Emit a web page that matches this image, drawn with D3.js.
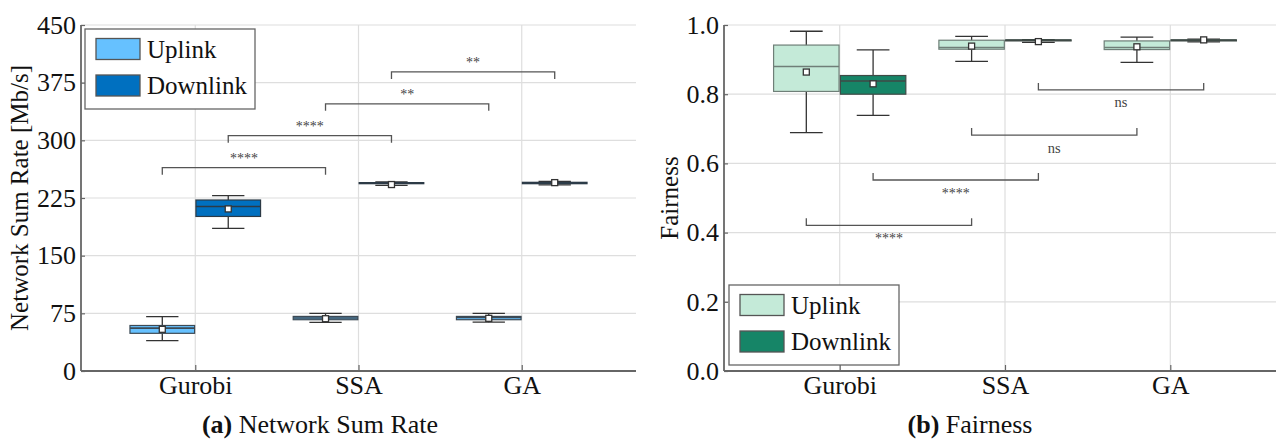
<!DOCTYPE html>
<html>
<head>
<meta charset="utf-8">
<script src="https://cdn.jsdelivr.net/npm/d3@7"></script>
<style>
  body { margin: 0; background: #fff; }
  svg { display: block; font-family: "Liberation Serif", "Times New Roman", serif; }
</style>
</head>
<body>
<svg id="chart" width="1276" height="441"></svg>
<script>
const categories = ["Gurobi", "SSA", "GA"];
const series = ["Uplink", "Downlink"];

// stats per category: [whiskerLow, q1, median, q3, whiskerHigh, mean]
const rateUplink = [
  [39.5, 49, 55.7, 59.2, 70.6, 54.2],
  [63.3, 66.7, 69, 71, 75, 68],
  [63.5, 66.7, 69.5, 71, 75, 68.5]
];
const rateDownlink = [
  [185.5, 201, 214, 222.4, 228.2, 210.8],
  [241.5, 243.6, 244.4, 245, 246, 242.5],
  [242, 243.6, 244.5, 245.4, 246.5, 245]
];
const fairUplink = [
  [0.689, 0.808, 0.880, 0.942, 0.982, 0.864],
  [0.895, 0.930, 0.935, 0.956, 0.967, 0.939],
  [0.892, 0.929, 0.935, 0.954, 0.965, 0.937]
];
const fairDownlink = [
  [0.739, 0.800, 0.838, 0.854, 0.928, 0.830],
  [0.950, 0.954, 0.956, 0.957, 0.958, 0.952],
  [0.951, 0.954, 0.956, 0.957, 0.959, 0.957]
];

const rateTicks = [0, 75, 150, 225, 300, 375, 450];
const fairTicks = [0, 0.2, 0.4, 0.6, 0.8, 1.0];

// significance brackets: [category, series] pairs, bracket level in data units
const rateBrackets = [
  { a: ["Gurobi", "Uplink"], b: ["SSA", "Uplink"], y: 264.5, label: "****" },
  { a: ["Gurobi", "Downlink"], b: ["SSA", "Downlink"], y: 306, label: "****" },
  { a: ["SSA", "Uplink"], b: ["GA", "Uplink"], y: 347.5, label: "**" },
  { a: ["SSA", "Downlink"], b: ["GA", "Downlink"], y: 389, label: "**" }
];
const fairBrackets = [
  { a: ["SSA", "Downlink"], b: ["GA", "Downlink"], y: 0.8125, label: "ns" },
  { a: ["SSA", "Uplink"], b: ["GA", "Uplink"], y: 0.682, label: "ns" },
  { a: ["Gurobi", "Downlink"], b: ["SSA", "Downlink"], y: 0.552, label: "****" },
  { a: ["Gurobi", "Uplink"], b: ["SSA", "Uplink"], y: 0.421, label: "****" }
];

const svg = d3.select("#chart");

function panel(opt) {
  const g = svg.append("g");
  const x = d3.scalePoint().domain(categories).range(opt.xRange).padding(0.7);
  const step = x.step();
  const inner = d3.scaleBand().domain(series).range([-0.4 * step, 0.4 * step]).paddingInner(0.02);
  const y = d3.scaleLinear().domain(opt.yDomain).range([371, 25]);
  const bw = inner.bandwidth();
  const cx = (c, s) => x(c) + inner(s) + bw / 2;

  // grid
  g.append("g").selectAll("line").data(opt.ticks).join("line")
    .attr("x1", opt.xRange[0]).attr("x2", opt.xRange[1])
    .attr("y1", d => y(d)).attr("y2", d => y(d))
    .attr("stroke", "#dedede").attr("stroke-width", 1.2);
  g.append("g").selectAll("line").data(categories).join("line")
    .attr("x1", d => x(d)).attr("x2", d => x(d))
    .attr("y1", y.range()[0]).attr("y2", y.range()[1])
    .attr("stroke", "#dedede").attr("stroke-width", 1.2);

  // boxes
  series.forEach((s, si) => {
    const stats = opt.data[si];
    const bg = g.append("g");
    const item = bg.selectAll("g").data(stats).join("g");
    item.append("line")
      .attr("x1", (d, i) => cx(categories[i], s)).attr("x2", (d, i) => cx(categories[i], s))
      .attr("y1", d => y(d[0])).attr("y2", d => y(d[4]))
      .attr("stroke", "#333").attr("stroke-width", 1.3);
    [0, 4].forEach(k => {
      item.append("line")
        .attr("x1", (d, i) => cx(categories[i], s) - bw / 4).attr("x2", (d, i) => cx(categories[i], s) + bw / 4)
        .attr("y1", d => y(d[k])).attr("y2", d => y(d[k]))
        .attr("stroke", "#333").attr("stroke-width", 1.3);
    });
    item.append("rect")
      .attr("x", (d, i) => cx(categories[i], s) - bw / 2)
      .attr("width", bw)
      .attr("y", d => y(d[3]))
      .attr("height", d => Math.max(0.5, y(d[1]) - y(d[3])))
      .attr("fill", opt.colors[si])
      .attr("stroke", opt.boxStroke[si]).attr("stroke-width", 1.2);
    item.append("line")
      .attr("x1", (d, i) => cx(categories[i], s) - bw / 2).attr("x2", (d, i) => cx(categories[i], s) + bw / 2)
      .attr("y1", d => y(d[2])).attr("y2", d => y(d[2]))
      .attr("stroke", opt.boxStroke[si]).attr("stroke-width", 1.6);
    item.append("rect")
      .attr("x", (d, i) => cx(categories[i], s) - 3)
      .attr("y", d => y(d[5]) - 3)
      .attr("width", 6).attr("height", 6)
      .attr("fill", "#fff").attr("stroke", "#333").attr("stroke-width", 1.3);
  });

  // brackets
  const br = g.append("g").selectAll("g").data(opt.brackets).join("g");
  const dir = opt.bracketDir; // -1 ticks downward from line (above data), +1 ticks upward
  br.append("path")
    .attr("d", d => {
      const x1 = cx(d.a[0], d.a[1]), x2 = cx(d.b[0], d.b[1]), yy = y(d.y);
      const t = yy - dir * 7;
      return `M${x1},${t}V${yy}H${x2}V${t}`;
    })
    .attr("fill", "none").attr("stroke", "#555").attr("stroke-width", 1.3);
  br.append("text")
    .attr("x", d => (cx(d.a[0], d.a[1]) + cx(d.b[0], d.b[1])) / 2)
    .attr("y", d => y(d.y) + (dir < 0 ? -4.5 : 17.5))
    .attr("text-anchor", "middle")
    .attr("font-size", d => d.label === "ns" ? 14.5 : 14)
    .attr("fill", "#444")
    .text(d => d.label);

  // axes
  const yAxis = d3.axisLeft(y).tickValues(opt.ticks).tickFormat(opt.fmt).tickSize(-4).tickPadding(5);
  const ya = g.append("g").attr("transform", `translate(${opt.xRange[0]},0)`).call(yAxis);
  const xAxis = d3.axisBottom(x).tickSize(-6).tickPadding(5);
  const xa = g.append("g").attr("transform", `translate(0,371)`).call(xAxis);
  [ya, xa].forEach(a => {
    a.select(".domain").attr("stroke", "#666").attr("stroke-width", 1.8);
    a.selectAll(".tick line").attr("stroke", "#666").attr("stroke-width", 1.2);
    a.selectAll(".tick text").attr("font-size", 26).attr("fill", "#111").attr("font-family", "Liberation Serif");
  });
  ya.select(".domain").attr("d", `M0,371V25`);
  xa.select(".domain").attr("d", `M${opt.xRange[0]},0H${opt.xRange[1]}`);
  xa.selectAll(".tick text").attr("dy", "0.71em");

  // y label
  g.append("text")
    .attr("transform", `translate(${opt.yLabelX},198) rotate(-90)`)
    .attr("text-anchor", "middle")
    .attr("font-size", 25).attr("fill", "#111")
    .text(opt.yLabel);

  // legend
  const lg = g.append("g").attr("transform", `translate(${opt.legend[0]},${opt.legend[1]})`);
  lg.append("rect").attr("width", 170).attr("height", 80)
    .attr("fill", "#fff").attr("stroke", "#666").attr("stroke-width", 1.3);
  const li = lg.selectAll("g").data(series).join("g")
    .attr("transform", (d, i) => `translate(11,${9.5 + i * 36.5})`);
  li.append("rect").attr("width", 44).attr("height", 21)
    .attr("fill", (d, i) => opt.colors[i]).attr("stroke", "#555").attr("stroke-width", 1.3);
  li.append("text").attr("x", 51).attr("y", 19)
    .attr("font-size", 25).attr("fill", "#111").text(d => d);

  // caption
  const cap = g.append("text")
    .attr("x", opt.captionX).attr("y", 433)
    .attr("text-anchor", "middle").attr("font-size", 26).attr("fill", "#111");
  cap.append("tspan").attr("font-weight", "bold").text(opt.captionTag);
  cap.append("tspan").text(" " + opt.caption);
}

panel({
  xRange: [81, 636],
  yDomain: [0, 450],
  ticks: rateTicks,
  fmt: d3.format("d"),
  data: [rateUplink, rateDownlink],
  colors: ["#66c1ff", "#0070c0"],
  boxStroke: ["#3d4a55", "#2c3a46"],
  brackets: rateBrackets,
  bracketDir: -1,
  yLabel: "Network Sum Rate [Mb/s]",
  yLabelX: 28,
  legend: [85, 29],
  captionX: 320,
  captionTag: "(a)",
  caption: "Network Sum Rate"
});

panel({
  xRange: [724, 1286],
  yDomain: [0, 1],
  ticks: fairTicks,
  fmt: d3.format(".1f"),
  data: [fairUplink, fairDownlink],
  colors: ["#c4ead8", "#168567"],
  boxStroke: ["#6f7f78", "#3f4a46"],
  brackets: fairBrackets,
  bracketDir: 1,
  yLabel: "Fairness",
  yLabelX: 678,
  legend: [729, 285],
  captionX: 970,
  captionTag: "(b)",
  caption: "Fairness"
});
</script>
</body>
</html>
